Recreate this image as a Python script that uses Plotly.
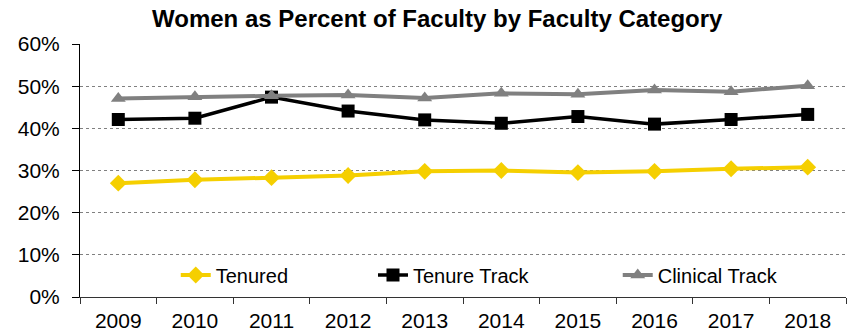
import plotly.graph_objects as go

years = ["2009", "2010", "2011", "2012", "2013", "2014", "2015", "2016", "2017", "2018"]
tenured = [27.0, 27.8, 28.3, 28.8, 29.8, 30.0, 29.5, 29.8, 30.4, 30.8]
tenure_track = [42.1, 42.4, 47.4, 44.1, 42.0, 41.2, 42.8, 41.0, 42.1, 43.3]
clinical_track = [47.1, 47.5, 47.7, 47.9, 47.2, 48.3, 48.1, 49.1, 48.7, 50.1]
pct_ticks = [0, 10, 20, 30, 40, 50, 60]
pct_labels = [f"{v}%" for v in pct_ticks]

font_family = "Liberation Sans, Arial, sans-serif"

fig = go.Figure()
fig.add_trace(go.Scatter(
    x=years, y=tenured, name="Tenured", mode="lines+markers", legend="legend",
    line=dict(color="#F5CF00", width=4),
    marker=dict(symbol="diamond", size=13, color="#F5CF00"),
))
fig.add_trace(go.Scatter(
    x=years, y=tenure_track, name="Tenure Track", mode="lines+markers", legend="legend2",
    line=dict(color="#000000", width=3.5),
    marker=dict(symbol="square", size=13, color="#000000"),
))
fig.add_trace(go.Scatter(
    x=years, y=clinical_track, name="Clinical Track", mode="lines+markers", legend="legend3",
    line=dict(color="#808080", width=4),
    marker=dict(symbol="triangle-up", size=13, color="#808080"),
))

# three legends side by side, placed inside the plot area near the bottom
legend_style = dict(orientation="h", xanchor="left", yanchor="middle", y=0.087,
                    bgcolor="rgba(255,255,255,0)", font=dict(size=20))

fig.update_layout(
    width=849, height=332,
    margin=dict(l=80, r=3, t=44, b=35),
    paper_bgcolor="white", plot_bgcolor="white",
    font=dict(family=font_family, size=21, color="black"),
    title=dict(text="<b>Women as Percent of Faculty by Faculty Category</b>",
               x=0.515, xanchor="center", y=0.943, yanchor="middle",
               font=dict(size=24, family=font_family, color="black")),
    showlegend=True,
    legend=dict(x=0.125, **legend_style),
    legend2=dict(x=0.3825, **legend_style),
    legend3=dict(x=0.702, **legend_style),
)
fig.update_xaxes(
    type="category", range=[-0.5, 9.5], automargin=False,
    showline=True, linecolor="#333333", linewidth=1,
    ticks="outside", ticklen=6, tickcolor="#333333", tickson="boundaries",
    ticklabelstandoff=5,
    showgrid=False, tickfont=dict(size=21),
)
fig.update_yaxes(
    range=[0, 60], tickmode="array", tickvals=pct_ticks, ticktext=pct_labels,
    automargin=False,
    showline=True, linecolor="black", linewidth=1,
    ticks="outside", ticklen=7, tickcolor="black", ticklabelstandoff=8,
    showgrid=True, gridcolor="#808080", gridwidth=1, griddash="dot",
    zeroline=False, tickfont=dict(size=21),
)

fig.write_html("out.html")
